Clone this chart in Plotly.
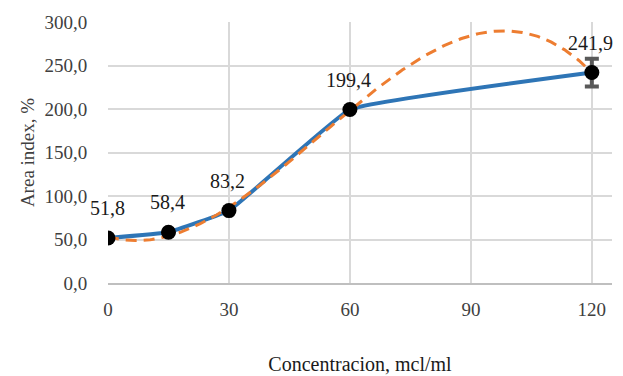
import numpy as np
import plotly.graph_objects as go

conc = [0, 15, 30, 60, 120]
area = [51.8, 58.4, 83.2, 199.4, 241.9]
err = [0, 0, 0, 0, 16]
x_ticks = [0, 30, 60, 90, 120]
y_ticks = [0, 50, 100, 150, 200, 250, 300]

# polynomial (3rd degree) trendline computed from the data
coef = np.polyfit(conc, area, 3)
xt = np.linspace(0, 120, 300)
yt = np.polyval(coef, xt)

font = "Times New Roman, Liberation Serif, DejaVu Serif, serif"
fig = go.Figure()
fig.add_trace(go.Scatter(x=conc, y=area, mode="lines",
                         line=dict(color="#2e75b6", width=4, shape="spline", smoothing=0.25),
                         hoverinfo="skip"))
fig.add_trace(go.Scatter(x=xt, y=yt, mode="lines",
                         line=dict(color="#ed7d31", width=3, dash="11px,7px"),
                         hoverinfo="skip"))
fig.add_trace(go.Scatter(x=conc, y=area, mode="markers",
                         marker=dict(color="black", size=15),
                         error_y=dict(type="data", array=err, visible=True,
                                      color="#595959", thickness=4, width=7)))

for xv, yv in zip(conc, area):
    fig.add_annotation(x=xv, y=yv, text=f"{yv:.1f}".replace(".", ","),
                       showarrow=False, yshift=30, xshift=-1,
                       font=dict(family=font, size=20, color="#1a1a1a"))

fig.update_layout(
    width=623, height=376,
    margin=dict(l=108, r=11, t=22, b=93),
    paper_bgcolor="white", plot_bgcolor="white",
    showlegend=False,
    separators=", ",
    font=dict(family=font, size=19, color="#404040"),
)
fig.update_xaxes(range=[0, 125], tickvals=x_ticks, ticktext=[str(v) for v in x_ticks],
                 showgrid=True, gridcolor="#d9d9d9", gridwidth=1.5,
                 zeroline=False, showline=True, linecolor="#bfbfbf", linewidth=2,
                 ticks="outside", ticklen=8, tickcolor="rgba(0,0,0,0)",
                 automargin=False,
                 title=dict(text="Concentracion, mcl/ml", standoff=38,
                            font=dict(family=font, size=20, color="#1a1a1a")))
fig.update_yaxes(range=[0, 300], tickvals=y_ticks, tickformat=".1f",
                 showgrid=True, gridcolor="#d9d9d9", gridwidth=1.5,
                 zeroline=False, showline=False,
                 ticks="outside", ticklen=16, tickcolor="rgba(0,0,0,0)",
                 automargin=False,
                 title=dict(text="Area index, %", standoff=4,
                            font=dict(family=font, size=19, color="#404040")))
fig.write_html("out.html")
